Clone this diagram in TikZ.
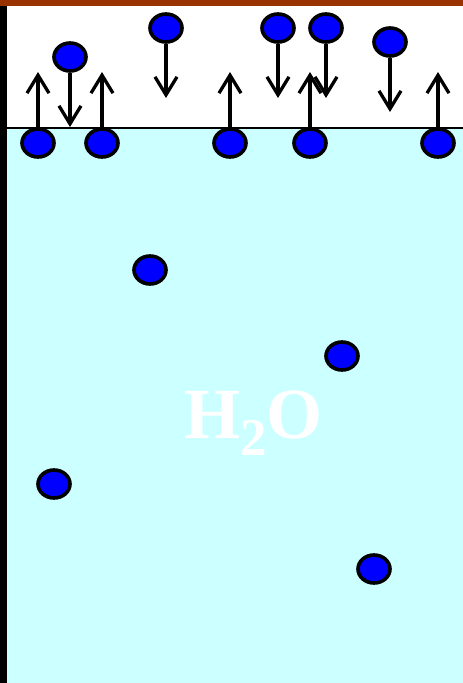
\documentclass[tikz,border=0pt]{standalone}
\usepackage{fontspec}
\setmainfont{Liberation Serif}
\usetikzlibrary{arrows.meta,shapes.geometric}
\definecolor{brownbar}{RGB}{153,51,0}
\definecolor{water}{RGB}{204,255,255}
\definecolor{molblue}{RGB}{0,0,255}
\tikzset{
  mol/.style={ellipse, draw=black, fill=molblue, line width=3.6pt, minimum width=32pt, minimum height=28pt, inner sep=0pt},
  move/.style={line width=3.3pt, -{Straight Barb[length=18pt,width=22pt]}}
}
\begin{document}
\begin{tikzpicture}[x=1pt,y=-1pt]
\useasboundingbox (0,0) rectangle (463,683);
\fill[white] (0,0) rectangle (463,683);
\fill[water] (7,128) rectangle (463,683);
\fill[brownbar] (0,0) rectangle (463,6);
\fill[black] (0,6) rectangle (7,683);
\draw[line width=2.2pt] (7,128) -- (463,128);
\node[font=\bfseries\fontsize{72}{72}\selectfont, text=white, anchor=base west, inner sep=0pt] (h2o) at (184,438) {H\raisebox{-17pt}{\fontsize{53}{53}\selectfont 2}O};
% surface molecules
\node[mol] (s1) at (38,143) {};
\node[mol] (s2) at (102,143) {};
\node[mol] (s3) at (230,143) {};
\node[mol] (s4) at (310,143) {};
\node[mol] (s5) at (438,143) {};
% vapour molecules
\node[mol] (v1) at (70,57) {};
\node[mol] (v2) at (166,28) {};
\node[mol] (v3) at (278,28) {};
\node[mol] (v4) at (326,28) {};
\node[mol] (v5) at (390,42) {};
% bulk molecules
\node[mol] (b1) at (150,270) {};
\node[mol] (b2) at (342,356) {};
\node[mol] (b3) at (54,484) {};
\node[mol] (b4) at (374,569) {};
% arrow ends
\coordinate (u1) at (38,72);
\coordinate (u2) at (102,72);
\coordinate (u3) at (230,72);
\coordinate (u4) at (310,72);
\coordinate (u5) at (438,72);
\coordinate (d1) at (70,127);
\coordinate (d2) at (166,98);
\coordinate (d3) at (278,98);
\coordinate (d4) at (326,98);
\coordinate (d5) at (390,112);
\foreach \i in {1,...,5} {
  \draw[move] (s\i.north) -- (u\i);
  \draw[move] (v\i.south) -- (d\i);
}
\end{tikzpicture}
\end{document}
